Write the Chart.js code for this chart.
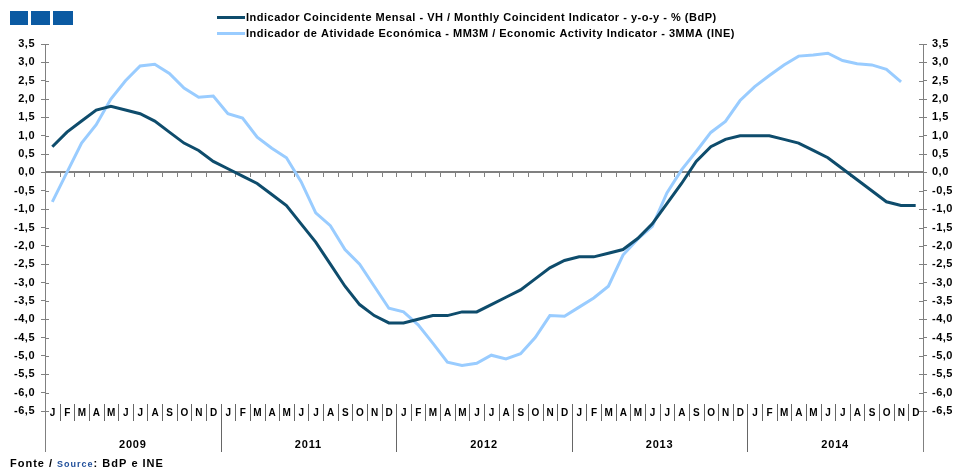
<!DOCTYPE html>
<html>
<head>
<meta charset="utf-8">
<script src="https://cdn.jsdelivr.net/npm/chart.js@4/dist/chart.umd.min.js"></script>
<style>
  html, body { margin: 0; padding: 0; background: #fff; }
  #wrap { width: 960px; height: 468px; position: relative; }
</style>
</head>
<body>
<div id="wrap"><canvas id="myChart" width="960" height="468"></canvas></div>
<script>
// data
const months = ['J', 'F', 'M', 'A', 'M', 'J', 'J', 'A', 'S', 'O', 'N', 'D'];
const years = ['2009', '2011', '2012', '2013', '2014'];

const coincidentLabel = 'Indicador Coincidente Mensal - VH / Monthly Coincident Indicator - y-o-y - % (BdP)';
const activityLabel = 'Indicador de Atividade Económica - MM3M / Economic Activity Indicator - 3MMA (INE)';

const coincident = [
  0.7, 1.1, 1.4, 1.7, 1.8, 1.7, 1.6, 1.4, 1.1, 0.8, 0.6, 0.3,
  0.1, -0.1, -0.3, -0.6, -0.9, -1.4, -1.9, -2.5, -3.1, -3.6, -3.9, -4.1,
  -4.1, -4.0, -3.9, -3.9, -3.8, -3.8, -3.6, -3.4, -3.2, -2.9, -2.6, -2.4,
  -2.3, -2.3, -2.2, -2.1, -1.8, -1.4, -0.85, -0.3, 0.3, 0.7, 0.9, 1.0,
  1.0, 1.0, 0.9, 0.8, 0.6, 0.4, 0.1, -0.2, -0.5, -0.8, -0.9, -0.9
];
const activity = [
  -0.8, 0.0, 0.8, 1.3, 2.0, 2.5, 2.9, 2.95, 2.7, 2.3, 2.05, 2.08,
  1.6, 1.48, 0.96, 0.66, 0.4, -0.25, -1.1, -1.45, -2.1, -2.5, -3.1, -3.7,
  -3.8, -4.15, -4.65, -5.17, -5.26, -5.2, -4.98, -5.08, -4.94, -4.5, -3.9, -3.92,
  -3.67, -3.42, -3.1, -2.25, -1.82, -1.47, -0.56, 0.07, 0.57, 1.09, 1.39, 1.96,
  2.34, 2.64, 2.93, 3.17, 3.2, 3.25, 3.05, 2.96, 2.93, 2.81, 2.47, null
];

const labels = [];
years.forEach(y => months.forEach(m => labels.push(m + ' ' + y)));

const darkBlue = '#0e4c6c';
const lightBlue = '#99ccff';
const axisGrey = '#808080';
const font = '"Liberation Sans", Arial, sans-serif';

// extra drawing: zero line, month/year axis, legend, logo, source
const decor = {
  id: 'decor',
  beforeDraw(chart) {
    chart.ctx.letterSpacing = '0.5px'; // old excel text is spaced wider
  },
  beforeDatasetsDraw(chart) {
    const ctx = chart.ctx;
    const a = chart.chartArea;
    const x = chart.scales.x;
    const y = chart.scales.y;
    const band = x.getPixelForValue(1) - x.getPixelForValue(0);
    const y0 = Math.round(y.getPixelForValue(0));

    function line(x1, y1, x2, y2) {
      ctx.beginPath();
      ctx.moveTo(x1, y1);
      ctx.lineTo(x2, y2);
      ctx.stroke();
    }

    ctx.save();
    ctx.strokeStyle = axisGrey;
    ctx.lineWidth = 1;

    // inner half of the y ticks
    y.ticks.forEach(t => {
      const py = Math.round(y.getPixelForValue(t.value)) + 0.5;
      line(a.left, py, a.left + 4, py);
      line(a.right - 4, py, a.right, py);
    });

    // axis lines go down to the year row
    line(Math.round(a.left) + 0.5, a.bottom, Math.round(a.left) + 0.5, 452);
    line(Math.round(a.right) + 0.5, a.bottom, Math.round(a.right) + 0.5, 452);

    // zero line with month ticks
    ctx.lineWidth = 2;
    line(a.left, y0, a.right, y0);
    ctx.lineWidth = 1;
    for (let i = 1; i < labels.length; i++) {
      const bx = Math.round(a.left + i * band) + 0.5;
      line(bx, y0, bx, y0 + 5);
    }

    // month separators and year separators
    ctx.strokeStyle = '#666';
    for (let i = 1; i < labels.length; i++) {
      const bx = Math.round(a.left + i * band) + 0.5;
      if (i % 12 === 0) line(bx, 404, bx, 452);
      else line(bx, 404, bx, 421);
    }

    ctx.fillStyle = '#000';
    ctx.textAlign = 'center';
    ctx.textBaseline = 'middle';
    ctx.font = 'bold 10px ' + font;
    labels.forEach((l, i) => {
      ctx.fillText(months[i % 12], x.getPixelForValue(i) + 0.5, 413);
    });
    ctx.font = 'bold 11px ' + font;
    ctx.letterSpacing = '0.8px';
    years.forEach((yr, j) => {
      ctx.fillText(yr, a.left + (j * 12 + 6) * band, 445);
    });

    // legend
    ctx.textAlign = 'left';
    ctx.lineWidth = 3;
    ctx.strokeStyle = darkBlue;
    line(217, 17.5, 245, 17.5);
    ctx.strokeStyle = lightBlue;
    line(217, 33.5, 245, 33.5);
    ctx.letterSpacing = '0.5px';
    ctx.fillText(coincidentLabel, 246, 18);
    ctx.fillText(activityLabel, 246, 34);

    // logo
    ctx.fillStyle = '#0b5aa2';
    ctx.fillRect(10, 11, 18, 14);
    ctx.fillRect(31, 11, 19, 14);
    ctx.fillRect(53, 11, 20, 14);

    // source
    ctx.textBaseline = 'alphabetic';
    ctx.letterSpacing = '1px';
    ctx.fillStyle = '#000';
    ctx.font = 'bold 11px ' + font;
    let sx = 10;
    ctx.fillText('Fonte / ', sx, 467);
    sx += ctx.measureText('Fonte / ').width;
    ctx.fillStyle = '#1f4e9a';
    ctx.font = 'bold 9px ' + font;
    ctx.fillText('Source', sx, 467);
    sx += ctx.measureText('Source').width;
    ctx.fillStyle = '#000';
    ctx.font = 'bold 11px ' + font;
    ctx.fillText(': BdP e INE', sx, 467);
    ctx.restore();
  }
};

function tickText(v) {
  return v.toFixed(1).replace('.', ',');
}

function yAxis(pos, width, pad) {
  return {
    type: 'linear',
    position: pos,
    min: -6.5,
    max: 3.5,
    afterFit: s => { s.width = width; },
    ticks: {
      stepSize: 0.5,
      padding: pad,
      color: '#000',
      font: { family: font, size: 11, weight: 'bold' },
      callback: tickText
    },
    grid: { drawOnChartArea: false, drawTicks: true, tickLength: 4, color: axisGrey },
    border: { color: axisGrey, width: 1 }
  };
}

const ctx = document.getElementById('myChart').getContext('2d');

const myChart = new Chart(ctx, {
  type: 'line',
  data: {
    labels: labels,
    datasets: [{
      label: coincidentLabel,
      data: coincident,
      borderColor: darkBlue,
      borderWidth: 3,
      pointRadius: 0,
      tension: 0
    }, {
      label: activityLabel,
      data: activity,
      borderColor: lightBlue,
      borderWidth: 3,
      pointRadius: 0,
      tension: 0
    }]
  },
  options: {
    responsive: false,
    animation: false,
    layout: { padding: { top: 44, bottom: 57, left: 0, right: 0 } },
    plugins: {
      legend: { display: false },
      tooltip: { enabled: false }
    },
    scales: {
      x: { type: 'category', offset: true, display: false },
      y: yAxis('left', 45, 6),
      y2: yAxis('right', 37, 5)
    }
  },
  plugins: [decor]
});
</script>
</body>
</html>
